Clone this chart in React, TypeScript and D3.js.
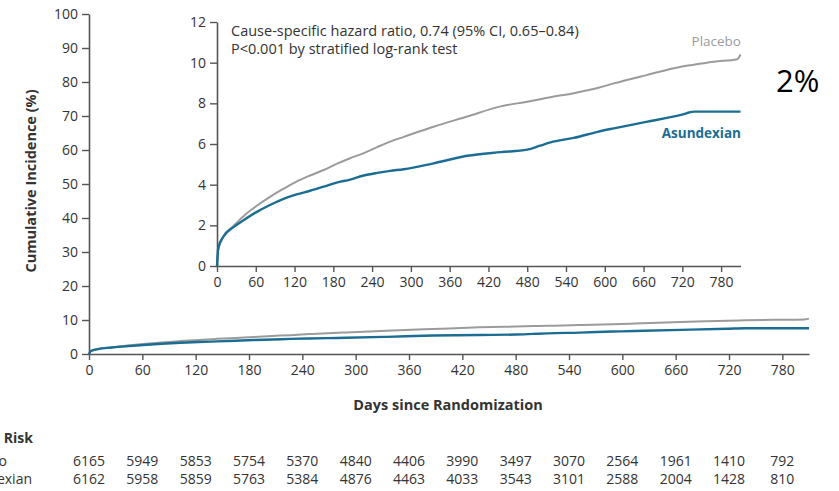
import React, { useEffect, useRef } from "react";
import * as d3 from "d3";

const days = [0, 2, 10, 25, 41, 61, 82, 103, 123, 144, 165, 185, 206, 227, 248, 268, 289, 335, 387, 439, 480, 500, 516, 552, 589, 614, 666, 718, 738, 769, 805, 810];
const placebo = [0, 0.8, 1.45, 1.95, 2.45, 2.95, 3.4, 3.8, 4.15, 4.45, 4.72, 5.02, 5.3, 5.55, 5.85, 6.12, 6.35, 6.85, 7.35, 7.85, 8.08, 8.2, 8.3, 8.5, 8.75, 8.98, 9.4, 9.8, 9.9, 10.05, 10.17, 10.4];
const asundexian = [0, 0.9, 1.45, 1.9, 2.25, 2.65, 3.0, 3.3, 3.52, 3.7, 3.9, 4.1, 4.25, 4.45, 4.58, 4.68, 4.76, 5.05, 5.42, 5.6, 5.72, 5.92, 6.08, 6.3, 6.6, 6.77, 7.1, 7.43, 7.59, 7.59, 7.59, 7.59];

const dayTicks = [0, 60, 120, 180, 240, 300, 360, 420, 480, 540, 600, 660, 720, 780];
const mainYTicks = [0, 10, 20, 30, 40, 50, 60, 70, 80, 90, 100];
const insetYTicks = [0, 2, 4, 6, 8, 10, 12];

const atRiskPlacebo = [6165, 5949, 5853, 5754, 5370, 4840, 4406, 3990, 3497, 3070, 2564, 1961, 1410, 792];
const atRiskAsundexian = [6162, 5958, 5859, 5763, 5384, 4876, 4463, 4033, 3543, 3101, 2588, 2004, 1428, 810];

const FONT = "'Open Sans', 'DejaVu Sans', sans-serif";
const GRAY = "#9b9b9b";
const BLUE = "#1b6d94";
const AXIS = "#555";
const TEXT = "#333";

export default function App() {
  const ref = useRef<SVGSVGElement>(null);

  useEffect(() => {
    const svg = d3.select(ref.current);
    svg.selectAll("*").remove();

    const series = [
      { name: "Placebo", values: placebo, color: GRAY, width: 2 },
      { name: "Asundexian", values: asundexian, color: BLUE, width: 2.4 },
    ];

    const styleAxis = (g: any, size: number) => {
      g.select(".domain").attr("stroke", AXIS).attr("stroke-width", 1.6);
      g.selectAll(".tick line").attr("stroke", AXIS).attr("stroke-width", 1.4);
      g.selectAll(".tick text").attr("fill", TEXT).style("font-family", FONT).style("font-size", size + "px");
    };

    // ---- main chart
    const x = d3.scaleLinear().domain([0, 810]).range([89, 809]);
    const y = d3.scaleLinear().domain([0, 100]).range([354, 14]);

    svg.append("g")
      .attr("transform", `translate(0,${y(0)})`)
      .call(d3.axisBottom(x).tickValues(dayTicks).tickSize(6).tickPadding(5).tickSizeOuter(0))
      .call((g: any) => styleAxis(g, 14));

    svg.append("g")
      .attr("transform", `translate(${x(0)},0)`)
      .call(d3.axisLeft(y).tickValues(mainYTicks).tickSize(7).tickPadding(4).tickSizeOuter(0))
      .call((g: any) => styleAxis(g, 14));

    const line = d3.line<number>()
      .x((d, i) => x(days[i]))
      .y((d) => y(d))
      .curve(d3.curveMonotoneX);

    series.forEach((s) => {
      svg.append("path")
        .attr("d", line(s.values))
        .attr("fill", "none")
        .attr("stroke", s.color)
        .attr("stroke-width", s.width);
    });

    svg.append("text")
      .attr("x", 448).attr("y", 410)
      .attr("text-anchor", "middle")
      .attr("fill", TEXT)
      .style("font-family", FONT).style("font-size", "14.5px").style("font-weight", "bold")
      .text("Days since Randomization");

    svg.append("text")
      .attr("transform", "translate(36,181) rotate(-90)")
      .attr("text-anchor", "middle")
      .attr("fill", TEXT)
      .style("font-family", FONT).style("font-size", "14.5px").style("font-weight", "bold")
      .text("Cumulative Incidence (%)");

    // ---- inset
    const xi = d3.scaleLinear().domain([0, 810]).range([217, 740.5]);
    const yi = d3.scaleLinear().domain([0, 12]).range([266, 22]);

    svg.append("g")
      .attr("transform", `translate(0,${yi(0)})`)
      .call(d3.axisBottom(xi).tickValues(dayTicks).tickSize(6).tickPadding(5).tickSizeOuter(0))
      .call((g: any) => styleAxis(g, 14));

    svg.append("g")
      .attr("transform", `translate(${xi(0)},0)`)
      .call(d3.axisLeft(yi).tickValues(insetYTicks).tickSize(7).tickPadding(4).tickSizeOuter(0))
      .call((g: any) => styleAxis(g, 14));

    const lineI = d3.line<number>()
      .x((d, i) => xi(days[i]))
      .y((d) => yi(d))
      .curve(d3.curveMonotoneX);

    series.forEach((s) => {
      svg.append("path")
        .attr("d", lineI(s.values))
        .attr("fill", "none")
        .attr("stroke", s.color)
        .attr("stroke-width", s.width);
    });

    const note = svg.append("text")
      .attr("fill", TEXT)
      .style("font-family", FONT).style("font-size", "14.5px");
    note.append("tspan").attr("x", 231).attr("y", 36).text("Cause-specific hazard ratio, 0.74 (95% CI, 0.65\u20130.84)");
    note.append("tspan").attr("x", 231).attr("y", 54).text("P<0.001 by stratified log-rank test");

    svg.append("text")
      .attr("x", 741).attr("y", 46)
      .attr("text-anchor", "end")
      .attr("fill", GRAY)
      .style("font-family", FONT).style("font-size", "13.5px")
      .text("Placebo");

    svg.append("text")
      .attr("x", 741).attr("y", 138)
      .attr("text-anchor", "end")
      .attr("fill", BLUE)
      .style("font-family", FONT).style("font-size", "13.5px").style("font-weight", "bold")
      .text("Asundexian");

    // ---- number at risk (left part is cropped in the source)
    svg.append("text")
      .attr("x", 33).attr("y", 443)
      .attr("text-anchor", "end")
      .attr("fill", TEXT)
      .style("font-family", FONT).style("font-size", "14px").style("font-weight", "bold")
      .text("No. at Risk");

    const rows = [
      { label: "Placebo", values: atRiskPlacebo, y: 466, end: 7 },
      { label: "Asundexian", values: atRiskAsundexian, y: 484, end: 32 },
    ];
    rows.forEach((r) => {
      svg.append("text")
        .attr("x", r.end).attr("y", r.y)
        .attr("text-anchor", "end")
        .attr("fill", TEXT)
        .style("font-family", FONT).style("font-size", "14px")
        .text(r.label);
      svg.append("g")
        .selectAll("text")
        .data(r.values)
        .join("text")
        .attr("x", (d, i) => x(dayTicks[i]))
        .attr("y", r.y)
        .attr("text-anchor", "middle")
        .attr("fill", TEXT)
        .style("font-family", FONT).style("font-size", "14px")
        .text((d) => d);
    });

    // overlay label from the slide
    svg.append("text")
      .attr("x", 776).attr("y", 92)
      .attr("fill", "#000")
      .style("font-family", FONT).style("font-size", "31px")
      .text("2%");
  }, []);

  return (
    <svg
      ref={ref}
      width={839}
      height={491}
      style={{ position: "absolute", left: 0, top: 0, background: "#fff" }}
    />
  );
}
